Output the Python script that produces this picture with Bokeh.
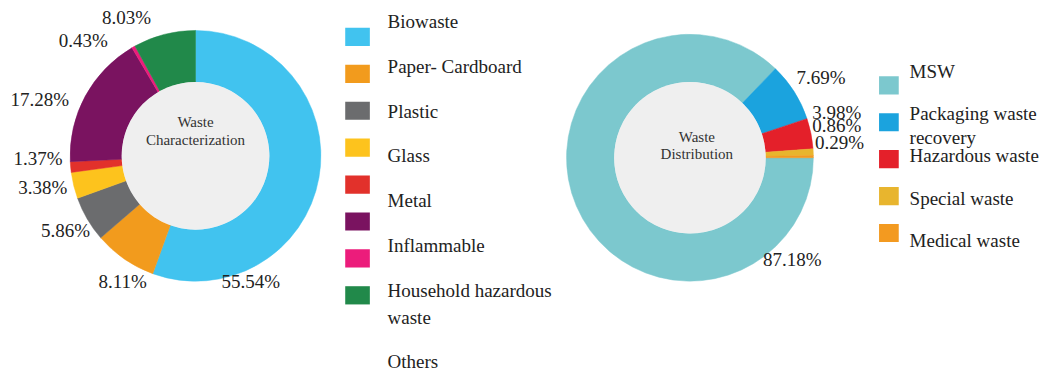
import numpy as np
from bokeh.plotting import figure
from bokeh.models import ColumnDataSource, Range1d
from bokeh.embed import file_html
from bokeh.resources import INLINE
from bokeh.core.properties import value

# ---------------- data ----------------
char_categories = ["Biowaste", "Paper- Cardboard", "Plastic", "Glass", "Metal",
                   "Inflammable", "Household hazardous\nwaste", "Others"]
char_values = [55.54, 8.11, 5.86, 3.38, 1.37, 17.28, 0.43, 8.03]
char_colors = ["#41C3EF", "#F29B1D", "#6B6C6E", "#FDC31D", "#E2312B",
               "#7A1360", "#EC1C7B", "#21894A"]

dist_categories = ["MSW", "Packaging waste\nrecovery", "Hazardous waste",
                   "Special waste", "Medical waste"]
dist_values = [87.18, 7.69, 3.98, 0.86, 0.29]
dist_colors = ["#7CC8CE", "#1BA3DE", "#E4202A", "#E8B52E", "#F39A20"]

# ---------------- layout ----------------
W, H = 1045, 372
RW, RH = 1061.0, 388.0          # reference picture size
KX, KY = W / RW, H / RH
KR = (KX + KY) / 2
FONT = value("Liberation Serif")


def X(sx):
    return sx * KX


def Y(sy):
    return H - sy * KY


p = figure(width=W, height=H, output_backend="svg", toolbar_location=None,
           x_axis_type=None, y_axis_type=None, min_border=0,
           x_range=Range1d(0, W), y_range=Range1d(0, H))
p.outline_line_color = None
p.background_fill_color = "white"
p.border_fill_color = "white"


def donut(cx, cy, r_in, r_out, values, colors, start_cw_deg):
    v = np.array(values, dtype=float)
    cum = np.concatenate([[0.0], np.cumsum(v / v.sum())]) * 2 * np.pi
    base = np.pi / 2 - np.radians(start_cw_deg)
    src = ColumnDataSource(dict(start=base - cum[:-1], end=base - cum[1:], color=colors))
    p.annular_wedge(x=X(cx), y=Y(cy), inner_radius=r_in * KR, outer_radius=r_out * KR,
                    start_angle="start", end_angle="end", direction="clock",
                    fill_color="color", line_color="color", line_width=0.5, source=src)
    p.circle(x=[X(cx)], y=[Y(cy)], radius=r_in * KR, fill_color="#EFEFEF", line_color=None)


def labels(values, anchors):
    src = ColumnDataSource(dict(
        x=[X(a[0]) for a in anchors], y=[Y(a[1]) for a in anchors],
        t=["%.2f%%" % v for v in values]))
    p.text(x="x", y="y", text="t", source=src, text_font=FONT, text_font_size="19px",
           text_align="center", text_baseline="middle", text_color="#222222")


def legend(names, colors, sq_x, sq_w, sq_y0, sq_step, tx, ty0, tstep, line_gap, shift_extra):
    n = len(colors)
    sq = ColumnDataSource(dict(x=[X(sq_x + sq_w / 2)] * n,
                               y=[Y(sq_y0 + i * sq_step) for i in range(n)],
                               color=colors))
    p.rect(x="x", y="y", width=sq_w * KX, height=19 * KY, fill_color="color",
           line_color=None, source=sq)
    xs, ys, ts = [], [], []
    extra = 0
    for i, name in enumerate(names):
        lines = name.split("\n")
        for j, ln in enumerate(lines):
            xs.append(X(tx))
            ys.append(Y(ty0 + i * tstep + extra + j * line_gap))
            ts.append(ln)
        if shift_extra:
            extra += (len(lines) - 1) * line_gap
    src = ColumnDataSource(dict(x=xs, y=ys, t=ts))
    p.text(x="x", y="y", text="t", source=src, text_font=FONT, text_font_size="19px",
           text_align="left", text_baseline="middle", text_color="#222222")


def center_text(cx, cy, lines):
    src = ColumnDataSource(dict(x=[X(cx)] * len(lines),
                                y=[Y(cy - 9 + 18 * k) for k in range(len(lines))],
                                t=lines))
    p.text(x="x", y="y", text="t", source=src, text_font=FONT, text_font_size="15px",
           text_align="center", text_baseline="middle", text_color="#333333")


# left donut: Waste Characterization
donut(198, 162, 76, 129, char_values, char_colors, 0)
center_text(198, 136, ["Waste", "Characterization"])
labels(char_values, [(254, 293), (124, 293), (66, 240), (43, 195), (38, 165),
                     (40, 103), (84, 42), (128, 18)])
legend(char_categories, char_colors, 350, 25, 38, 38.5, 393, 22, 46.7, 28, True)

# right donut: Waste Distribution
donut(700, 164, 78, 127, dist_values, dist_colors, 90)
center_text(707, 151, ["Waste", "Distribution"])
labels(dist_values, [(804, 270), (833, 80), (849, 117), (849, 130), (852, 148)])
legend(dist_categories, dist_colors, 892, 20, 88.5, 38.5, 923, 74, 44, 25, False)

open("out.html", "w").write(file_html(p, INLINE))
